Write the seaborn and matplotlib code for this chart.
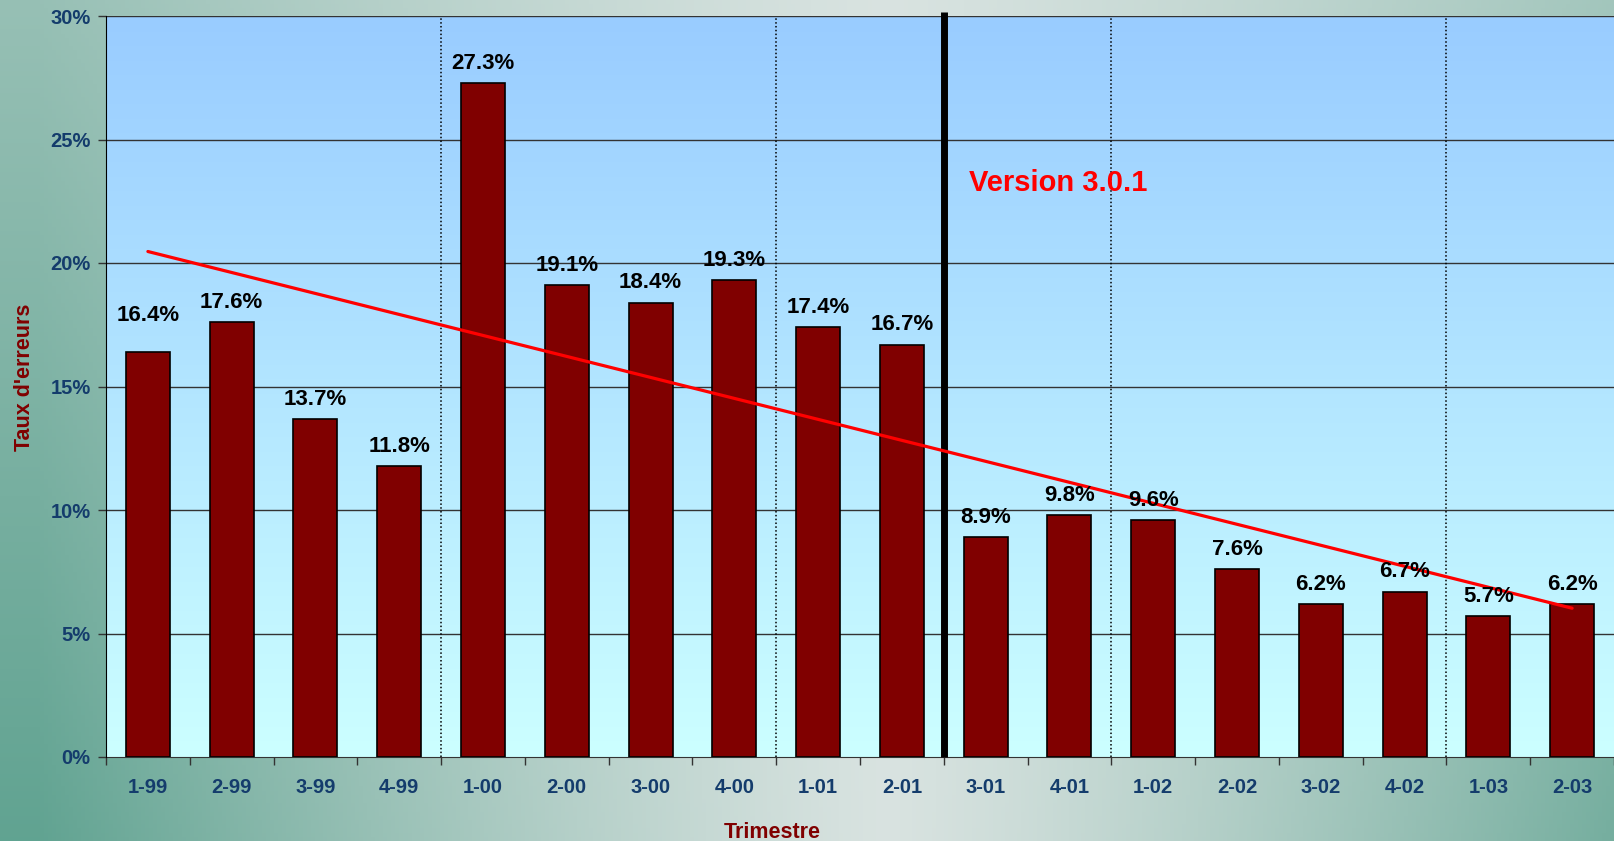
import numpy as np
import pandas as pd
import seaborn as sns
import matplotlib.pyplot as plt
from matplotlib.colors import LinearSegmentedColormap

# Data
trimestres = ["1-99", "2-99", "3-99", "4-99", "1-00", "2-00", "3-00", "4-00", "1-01",
              "2-01", "3-01", "4-01", "1-02", "2-02", "3-02", "4-02", "1-03", "2-03"]
taux = [16.4, 17.6, 13.7, 11.8, 27.3, 19.1, 18.4, 19.3, 17.4,
        16.7, 8.9, 9.8, 9.6, 7.6, 6.2, 6.7, 5.7, 6.2]
yticks = [0, 5, 10, 15, 20, 25, 30]
annee_bornes = [3.5, 7.5, 11.5, 15.5]   # dotted separators between years
version_borne = 9.5                     # release of version 3.0.1

df = pd.DataFrame({"Trimestre": trimestres, "Taux": taux})

navy = "#143c6c"
darkred = "#800000"

sns.set_style("white")
plt.rcParams["font.family"] = ["Liberation Sans", "DejaVu Sans"]

fig = plt.figure(figsize=(16.14, 8.41), dpi=100)

# teal slide background
bg = fig.add_axes([0, 0, 1, 1], zorder=-10)
h, w = 200, 400
yy, xx = np.mgrid[0:1:h * 1j, 0:1:w * 1j]
teal = np.array([0.38, 0.64, 0.57])
light = np.array([0.85, 0.89, 0.88])
t = np.clip(np.abs(xx - 0.55) * 1.9, 0, 1) ** 1.2
t = t * (0.55 + 0.45 * yy)
img = light[None, None, :] * (1 - t[..., None]) + teal[None, None, :] * t[..., None]
bg.imshow(img, extent=[0, 1, 0, 1], aspect="auto", origin="upper")
bg.axis("off")

ax = fig.add_axes([106 / 1614, 1 - 757 / 841, 1 - 106 / 1614, (757 - 16) / 841])

# plot area gradient
cmap = LinearSegmentedColormap.from_list("sky", ["#ccffff", "#99ccff"])
grad = np.linspace(0, 1, 256).reshape(-1, 1)
ax.imshow(grad, cmap=cmap, extent=[0, 1, 0, 1], transform=ax.transAxes,
          aspect="auto", origin="lower", zorder=0)

sns.barplot(data=df, x="Trimestre", y="Taux", color=darkred, saturation=1,
            width=0.525, edgecolor="black", linewidth=1.2, ax=ax, zorder=3)

ax.set_xlim(-0.5, len(trimestres) - 0.5)
ax.set_ylim(0, 30)
ax.set_yticks(yticks)
ax.set_yticklabels([f"{v}%" for v in yticks])
for v in yticks[1:]:
    ax.axhline(v, color="#333333", lw=1.0, zorder=1)

# year separators
for b in annee_bornes:
    ax.axvline(b, color="black", lw=1.1, ls=(0, (1, 1.5)), zorder=2)

# version line
ax.plot([version_borne, version_borne], [0, 30.15], color="black", lw=5,
        solid_capstyle="butt", clip_on=False, zorder=5)
ax.text(version_borne + 0.3, 23.25, "Version 3.0.1", color="red", fontsize=21,
        fontweight="bold", ha="left", va="center", zorder=6)

# linear trend
xs = np.arange(len(taux))
a, b0 = np.polyfit(xs, taux, 1)
ax.plot([xs[0], xs[-1]], [b0, a * xs[-1] + b0], color="red", lw=2.3, zorder=6)

# value labels (first one was lifted off the trend line in the original)
for i, v in enumerate(taux):
    dy = 19 if i == 0 else 6.5
    ax.annotate(f"{v:.1f}%", (i, v), xytext=(0, dy), textcoords="offset points",
                ha="center", va="bottom", fontsize=16, fontweight="bold",
                color="black", zorder=7)

# ticks & spines
ax.set_xticks(np.arange(len(trimestres) + 1) - 0.5, minor=True)
ax.tick_params(axis="x", which="major", length=0, pad=15, labelsize=14.5,
               labelcolor=navy)
ax.tick_params(axis="x", which="minor", length=6, width=1, color="#333333",
               direction="out", bottom=True)
ax.tick_params(axis="y", length=6, width=1, color="#333333", direction="out",
               left=True, pad=5, labelsize=14.5, labelcolor=navy)
for lab in ax.get_xticklabels() + ax.get_yticklabels():
    lab.set_fontweight("bold")
for s in ["top", "right"]:
    ax.spines[s].set_visible(False)
ax.spines["left"].set_color("black")
ax.spines["bottom"].set_color("#333333")
ax.spines["left"].set_zorder(8)

ax.set_xlabel("Trimestre", color=darkred, fontsize=15.5, fontweight="bold")
ax.set_ylabel("Taux d'erreurs", color=darkred, fontsize=15.5, fontweight="bold")
ax.xaxis.set_label_coords((772 - 106) / 1508, -0.088)
ax.yaxis.set_label_coords(-0.047, 0.513)

fig.savefig("out.png", dpi=100)
